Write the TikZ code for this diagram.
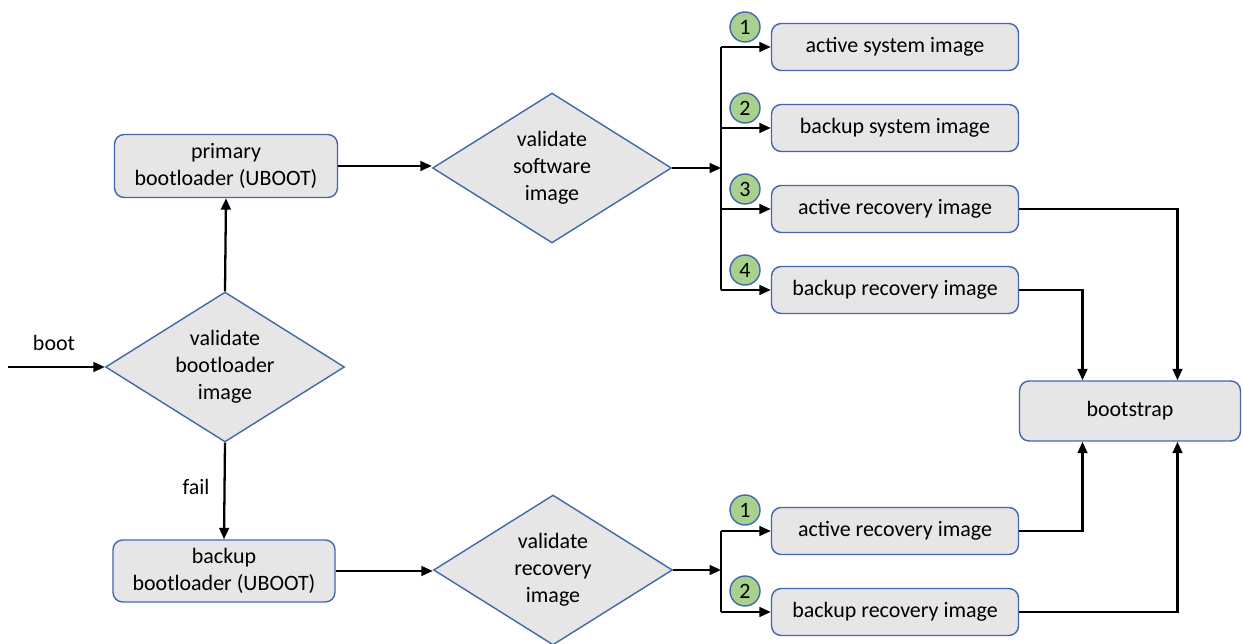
\documentclass[tikz,border=0pt]{standalone}
\usepackage{fontspec}
\setmainfont{Carlito}
\usepackage{tikz}
\usetikzlibrary{shapes.geometric,arrows.meta,positioning,calc}
\definecolor{boxfill}{RGB}{230,230,230}
\definecolor{boxline}{RGB}{66,104,170}
\definecolor{numfill}{RGB}{169,209,142}

\begin{document}
\begin{tikzpicture}[x=0.02cm, y=-0.02cm,
    every node/.style={font=\fontsize{12.5}{15.3}\selectfont},
    box/.style={draw=boxline, line width=0.8pt, fill=boxfill, rounded corners=5.5pt, align=center},
    imgbox/.style={box, minimum width=4.94cm, minimum height=0.94cm},
    decision/.style={draw=boxline, line width=0.8pt, fill=boxfill, diamond, aspect=1.6, inner sep=0pt, minimum width=4.78cm, minimum height=3cm, align=center},
    num/.style={draw=boxline, line width=0.8pt, fill=numfill, circle, inner sep=0pt, minimum size=0.6cm},
    >={Triangle[length=6.5pt,width=5.5pt]}]
        \useasboundingbox (0,0) rectangle (1243,644);
        % left column
        \node[decision] (vbl) at (225,367) {validate\\bootloader\\image};
        \node[box, minimum width=4.46cm, minimum height=1.26cm] (pbl) at (226,166) {primary\\bootloader (UBOOT)};
        \node[box, minimum width=4.44cm, minimum height=1.24cm] (bbl) at (224,571) {backup\\bootloader (UBOOT)};
        \node (bootlbl) at (54,343) {boot};
        \node (faillbl) at (196,487) {fail};
        \coordinate (start) at (8,367);
        % middle column
        \node[decision] (vsw) at (552,168) {validate\\software\\image};
        \node[decision] (vri) at (553,570) {validate\\recovery\\image};
        % right column, upper group
        \node[imgbox] (asi) at (895,47) {active system image};
        \node[imgbox] (bsi) at (895,128) {backup system image};
        \node[imgbox] (ari) at (895,209) {active recovery image};
        \node[imgbox] (bri) at (895,290) {backup recovery image};
        \node[num] (n1) at (745,27) {1};
        \node[num] (n2) at (745,108) {2};
        \node[num] (n3) at (745,189) {3};
        \node[num] (n4) at (745,270) {4};
        % right column, lower group
        \node[imgbox] (lari) at (895,531) {active recovery image};
        \node[imgbox] (lbri) at (895,612) {backup recovery image};
        \node[num] (m1) at (745,510) {1};
        \node[num] (m2) at (745,591) {2};
        \node[box, minimum width=4.42cm, minimum height=1.2cm] (bs) at (1130,411) {bootstrap};
        \coordinate (bus) at (721,168);
        \coordinate (lbus) at (721,570);

        \begin{scope}[line width=1.3pt]
        \draw[->] (start) -- (vbl.west);
        \draw[->] (vbl.north) -- (pbl.south);
        \draw[->] (vbl.south) -- (bbl.north);
        \draw[->] (pbl.east) -- (pbl.east -| vsw.west);
        \draw[->] (bbl.east) -- (bbl.east -| vri.west);
        % upper bus
        \draw[->] (vsw.east) -- (vsw.east -| bus);
        \draw (asi.west -| bus) -- (bri.west -| bus);
        \foreach \b in {asi,bsi,ari,bri}
            \draw[->] (\b.west -| bus) -- (\b.west);
        % lower bus
        \draw[->] (vri.east) -- (vri.east -| lbus);
        \draw (lari.west -| lbus) -- (lbri.west -| lbus);
        \foreach \b in {lari,lbri}
            \draw[->] (\b.west -| lbus) -- (\b.west);
        % into bootstrap
        \draw[->] (ari.east) -| ([xshift=0.95cm]bs.north);
        \draw[->] (bri.east) -| ([xshift=-0.95cm]bs.north);
        \draw[->] (lari.east) -| ([xshift=-0.95cm]bs.south);
        \draw[->] (lbri.east) -| ([xshift=0.95cm]bs.south);
        \end{scope}
    \end{tikzpicture}
\end{document}
